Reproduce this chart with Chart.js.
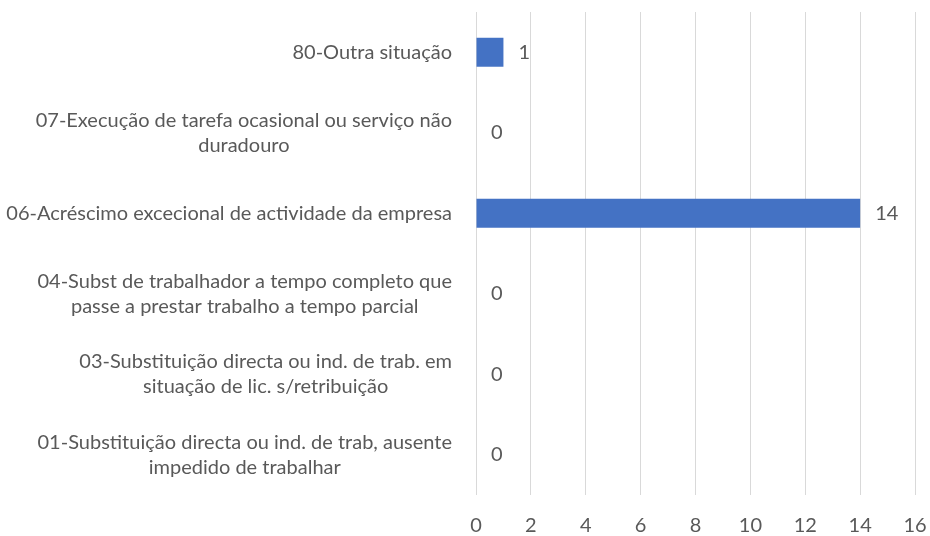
<!DOCTYPE html>
<html>
<head>
<meta charset="utf-8">
<script src="https://cdn.jsdelivr.net/npm/chart.js@4.4.1/dist/chart.umd.min.js"></script>
<style>
  html, body { margin: 0; padding: 0; background: #ffffff; }
  #box { width: 930px; height: 536px; }
</style>
</head>
<body>
<div id="box"><canvas id="myChart"></canvas></div>
<script>

const categorias = [
    ['80-Outra situação'],
    ['07-Execução de tarefa ocasional ou serviço não', 'duradouro'],
    ['06-Acréscimo excecional de actividade da empresa'],
    ['04-Subst de trabalhador a tempo completo que', 'passe a prestar trabalho a tempo parcial'],
    ['03-Substituição directa ou ind. de trab. em', 'situação de lic. s/retribuição'],
    ['01-Substituição directa ou ind. de trab, ausente', 'impedido de trabalhar']
];
const valores = [1, 0, 14, 0, 0, 0];
const ticksX = [0, 2, 4, 6, 8, 10, 12, 14, 16];

const fonte = 'Lato';
const cinza = '#595959';

// rótulos das categorias: bloco alinhado à direita, linhas centradas
const rotulosPlugin = {
    id: 'rotulos',
    afterDraw(chart) {
        const ctx = chart.ctx;
        const y = chart.scales.y;
        const x = chart.scales.x;
        const area = chart.chartArea;
        ctx.save();
        ctx.font = '20px ' + fonte;
        ctx.fillStyle = cinza;
        ctx.textBaseline = 'middle';
        ctx.textAlign = 'center';
        const lh = 25;
        categorias.forEach((linhas, i) => {
            const cy = y.getPixelForValue(i);
            let w = 0;
            linhas.forEach(l => { w = Math.max(w, ctx.measureText(l).width); });
            const cx = area.left - 24 - w / 2;
            const y0 = cy - (linhas.length - 1) * lh / 2;
            linhas.forEach((l, k) => ctx.fillText(l, cx, y0 + k * lh));
        });
        // valores ao lado das barras
        ctx.textAlign = 'left';
        valores.forEach((v, i) => {
            ctx.fillText(String(v), x.getPixelForValue(v) + 15, y.getPixelForValue(i));
        });
        ctx.restore();
    }
};

var ctx = document.getElementById('myChart').getContext('2d');

var myChart = new Chart(ctx, {
    type: 'bar',
    data: {
        labels: categorias,
        datasets: [{
            data: valores,
            backgroundColor: '#4472c4',
            borderWidth: 0,
            categoryPercentage: 0.36,
            barPercentage: 1
        }]
    },
    options: {
        indexAxis: 'y',
        responsive: true,
        maintainAspectRatio: false,
        animation: false,
        layout: { padding: { top: 12, right: 15, left: 0, bottom: 0 } },
        plugins: {
            legend: { display: false },
            tooltip: { enabled: false }
        },
        scales: {
            x: {
                min: 0,
                max: 16,
                afterBuildTicks: (s) => { s.ticks = ticksX.map(v => ({ value: v })); },
                afterFit: (s) => {
                    s.height = 41;
                    s.paddingLeft = 0;
                    s.paddingRight = 0;
                },
                grid: { color: '#d9d9d9', lineWidth: 1, drawTicks: false },
                border: { display: false },
                ticks: {
                    padding: 19,
                    color: cinza,
                    font: { family: fonte, size: 20 }
                }
            },
            y: {
                afterFit: (s) => { s.width = 476; },
                grid: { display: false },
                border: { display: false },
                ticks: { display: false }
            }
        }
    },
    plugins: [rotulosPlugin]
});

</script>
</body>
</html>
